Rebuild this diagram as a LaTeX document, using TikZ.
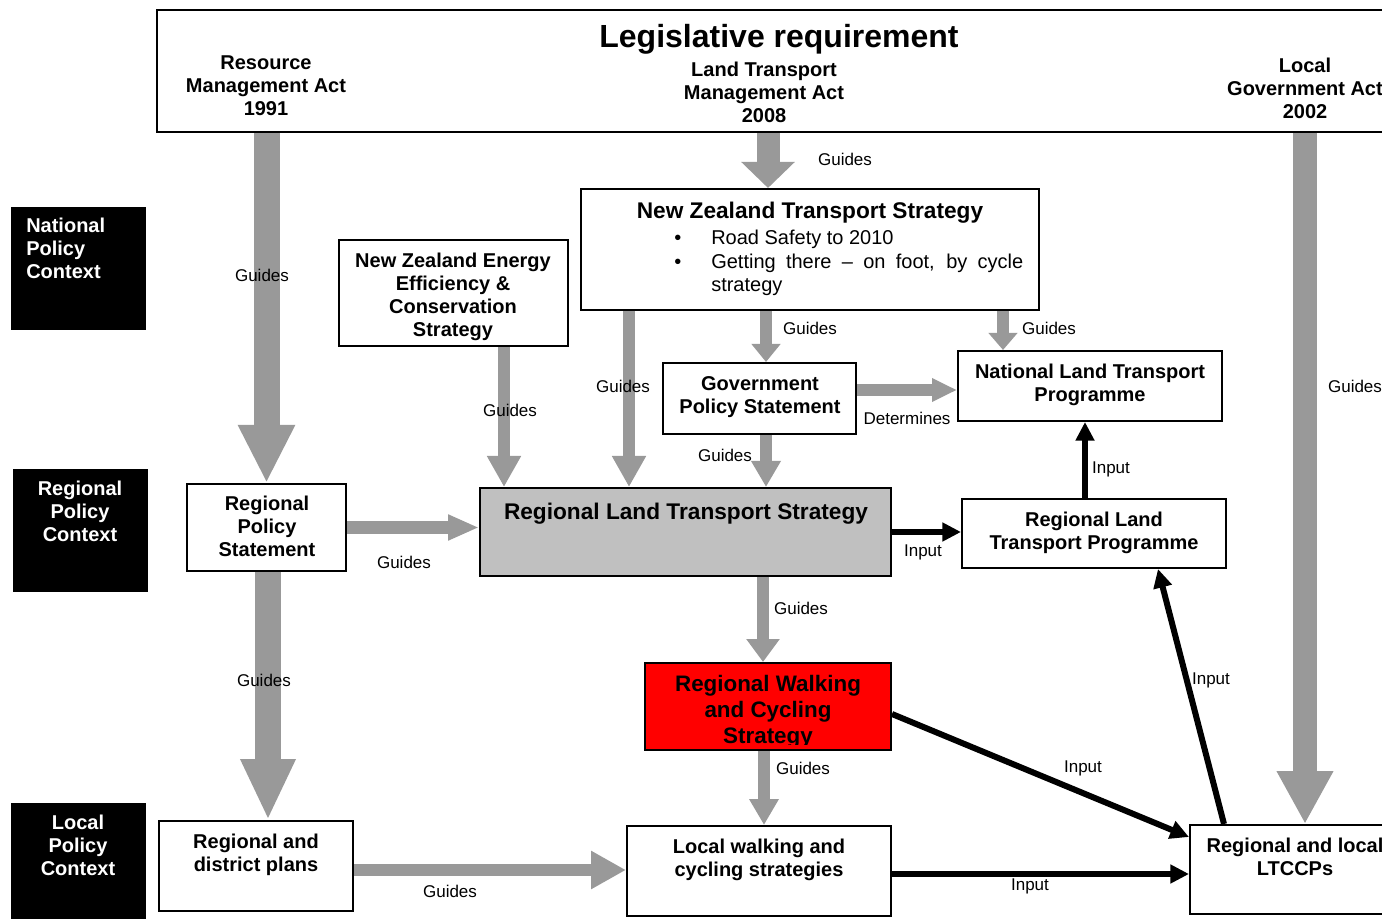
\documentclass[tikz,border=0pt]{standalone}
\usepackage{fontspec}
\setmainfont{Liberation Sans}
\usetikzlibrary{arrows.meta,calc}
\definecolor{arrowgray}{RGB}{153,153,153}
\definecolor{rltsgray}{RGB}{192,192,192}
\tikzset{
  box/.style={draw=black, line width=1.5pt, fill=white, inner sep=0pt},
  blk/.style={fill=black, inner sep=0pt, minimum width=101.25pt, minimum height=92.25pt},
  tb/.style={font=\fontsize{15}{17.25}\selectfont\bfseries, align=center, inner sep=0pt, anchor=north},
  lbl/.style={font=\fontsize{12.75}{15}\selectfont, inner sep=0pt},
  garrow/.style n args={3}{draw=arrowgray, line width=#1, -{Triangle[length=#2, width=#3]}},
  barrow/.style={draw=black, line width=4.5pt, -{Triangle[length=14pt, width=13.5pt]}}
}
\begin{document}
\begin{tikzpicture}[x=0.75pt, y=-0.75pt]
\useasboundingbox (0,0) rectangle (1382,919);
\fill[white] (0,0) rectangle (1382,919);
\clip (0,0) rectangle (1382,919);

% ---- top legislative box
\node[box, minimum width=932.25pt, minimum height=91.5pt] (top) at (778.5,71) {};
\node[font=\fontsize{24}{28}\selectfont\bfseries, inner sep=0pt, anchor=base] (title) at (779,48) {Legislative requirement};
\node[tb] (rma) at (266,55) {Resource\\Management Act\\1991};
\node[tb] (ltma) at (764,62) {Land Transport\\Management Act\\2008};
\node[tb] (lga) at (1305,58) {Local\\Government Act\\2002};

% ---- context boxes
\node[blk] (npcbox) at (78.5,268.5) {};
\node[tb, text=white, align=left, anchor=north west] (npc) at (26,218) {National\\Policy\\Context};
\node[blk] (rpcbox) at (80.5,530.5) {};
\node[tb, text=white] (rpc) at (80,481) {Regional\\Policy\\Context};
\node[blk, minimum height=91.5pt] (lpcbox) at (78.5,864) {};
\node[tb, text=white] (lpc) at (78,815) {Local\\Policy\\Context};

% ---- boxes
\node[box, minimum width=171.75pt, minimum height=79.5pt] (nzeecs) at (453.5,293) {};
\node[tb] (nzeecst) at (453,253) {New Zealand Energy\\Efficiency \&\\Conservation\\Strategy};

\node[box, minimum width=343.5pt, minimum height=90.75pt] (nzts) at (810,249.5) {};
\node[font=\fontsize{17}{20}\selectfont\bfseries, inner sep=0pt, anchor=north] (nztst) at (810,202) {New Zealand Transport Strategy};
\node[font=\fontsize{15}{17.6}\selectfont, text width=234pt, align=justify, anchor=north west, inner sep=0pt] (nztsb) at (711,230)
  {\hyphenpenalty=10000\noindent\llap{\textbullet\hspace{22.5pt}}Road Safety to 2010\par
   \noindent\llap{\textbullet\hspace{22.5pt}}Getting there – on foot, by cycle strategy};

\node[box, minimum width=144.75pt, minimum height=53.25pt] (gps) at (759.5,398.5) {};
\node[tb] (gpst) at (760,376) {Government\\Policy Statement};

\node[box, minimum width=198pt, minimum height=52.5pt] (nltp) at (1090,386) {};
\node[tb] (nltpt) at (1090,364) {National Land Transport\\Programme};

\node[box, minimum width=119.25pt, minimum height=65.25pt] (rps) at (266.5,527.5) {};
\node[tb] (rpst) at (267,496) {Regional\\Policy\\Statement};

\node[box, fill=rltsgray, minimum width=308.25pt, minimum height=66pt] (rlts) at (685.5,532) {};
\node[font=\fontsize{17}{20}\selectfont\bfseries, inner sep=0pt, anchor=north] (rltst) at (686,503) {Regional Land Transport Strategy};

\node[box, minimum width=198pt, minimum height=51.75pt] (rltp) at (1094,533.5) {};
\node[tb] (rltpt) at (1094,512) {Regional Land\\Transport Programme};

\node[box, fill=red, minimum width=184.5pt, minimum height=65.25pt] (rwcs) at (768,706.5) {};
\begin{scope}
  \clip (rwcs.north west) rectangle ($(rwcs.south east)+(0,-7)$);
  \node[font=\fontsize{16.8}{19.5}\selectfont\bfseries, align=center, inner sep=0pt, anchor=north] (rwcst) at (768,675) {Regional Walking\\and Cycling\\Strategy};
\end{scope}

\node[box, minimum width=145.5pt, minimum height=67.5pt] (rdp) at (256,866) {};
\node[tb] (rdpt) at (256,834) {Regional and\\district plans};

\node[box, minimum width=198pt, minimum height=67.5pt] (lwcs) at (759,871) {};
\node[tb] (lwcst) at (759,839) {Local walking and\\cycling strategies};

\node[box, minimum width=157.5pt, minimum height=66.75pt] (ltccp) at (1295,869.5) {};
\node[tb] (ltccpt) at (1295,838) {Regional and local\\LTCCPs};

% ---- gray arrows
\draw[garrow={19.5pt}{43.5pt}{39.75pt}] (rps.north |- top.south) -- (rps.north);
\coordinate (a0) at ($(rps.south)+(1.5,0)$);
\draw[garrow={19.5pt}{45.75pt}{38.25pt}] (a0) -- (a0 |- rdp.north);
\draw[garrow={18pt}{39.75pt}{39.75pt}] (lga.south |- top.south) -- (lga.south |- ltccp.north);
\coordinate (a1) at ($(nzts.north)+(-42,0)$);
\draw[garrow={17.25pt}{19.5pt}{39pt}] (a1 |- top.south) -- (a1);
\coordinate (a2) at ($(nzeecs.south)+(50.5,0)$);
\draw[garrow={9pt}{23.25pt}{24pt}] (a2) -- (a2 |- rlts.north);
\coordinate (a3) at ($(nzts.south west)+(49,0)$);
\draw[garrow={9pt}{23.25pt}{24pt}] (a3) -- (a3 |- rlts.north);
\coordinate (a4) at ($(gps.north)+(6.5,0)$);
\draw[garrow={9pt}{13.5pt}{21pt}] (a4 |- nzts.south) -- (a4);
\coordinate (a5) at ($(nltp.north west)+(46,0)$);
\draw[garrow={9pt}{12.75pt}{21pt}] (a5 |- nzts.south) -- (a5);
\coordinate (a6) at ($(gps.east)+(0,-8.5)$);
\draw[garrow={9pt}{18.75pt}{16.5pt}] (a6) -- (a6 -| nltp.west);
\coordinate (a7) at ($(gps.south)+(6.5,0)$);
\draw[garrow={9pt}{19.5pt}{21pt}] (a7) -- (a7 |- rlts.north);
\draw[garrow={9.75pt}{23.25pt}{18pt}] (rps.east) -- (rps.east -| rlts.west);
\coordinate (a8) at ($(rwcs.north)+(-5,0)$);
\draw[garrow={9pt}{17.25pt}{24pt}] (a8 |- rlts.south) -- (a8);
\coordinate (a9) at ($(rwcs.south)+(-4,0)$);
\draw[garrow={9pt}{19.5pt}{21pt}] (a9) -- (a9 |- lwcs.north);
\coordinate (a10) at ($(rdp.east)+(0,4)$);
\draw[garrow={9pt}{26.25pt}{27pt}] (a10) -- (a10 -| lwcs.west);

% ---- black arrows
\draw[barrow] (rlts.east) -- (rlts.east -| rltp.west);
\coordinate (b1) at ($(rltp.north)+(-9,0)$);
\draw[barrow] (b1) -- (b1 |- nltp.south);
\coordinate (b2) at ($(lwcs.east)+(0,3)$);
\draw[barrow] (b2) -- (b2 -| ltccp.west);
\draw[barrow] ($(rwcs.east)+(0,7.5)$) -- ($(ltccp.north west)+(0,13)$);
\draw[barrow] ($(ltccp.north west)+(35,0)$) -- ($(rltp.south east)+(-69,0)$);

% ---- labels
\node[lbl] (g1) at (262,275) {Guides};
\node[lbl] (g2) at (845,159) {Guides};
\node[lbl] (g3) at (264,680) {Guides};
\node[lbl] (g4) at (510,410) {Guides};
\node[lbl] (g5) at (623,386) {Guides};
\node[lbl] (g6) at (810,328) {Guides};
\node[lbl] (g7) at (1049,328) {Guides};
\node[lbl] (det) at (907,418) {Determines};
\node[lbl] (g8) at (725,455) {Guides};
\node[lbl] (g9) at (1355,386) {Guides};
\node[lbl] (g10) at (404,562) {Guides};
\node[lbl] (in1) at (923,552) {Input};
\node[lbl] (in2) at (1111,469) {Input};
\node[lbl] (g11) at (801,608) {Guides};
\node[lbl] (g12) at (803,768) {Guides};
\node[lbl] (in3) at (1211,680) {Input};
\node[lbl] (in4) at (1083,768) {Input};
\node[lbl] (in5) at (1030,886) {Input};
\node[lbl] (g13) at (450,891) {Guides};
\end{tikzpicture}
\end{document}
